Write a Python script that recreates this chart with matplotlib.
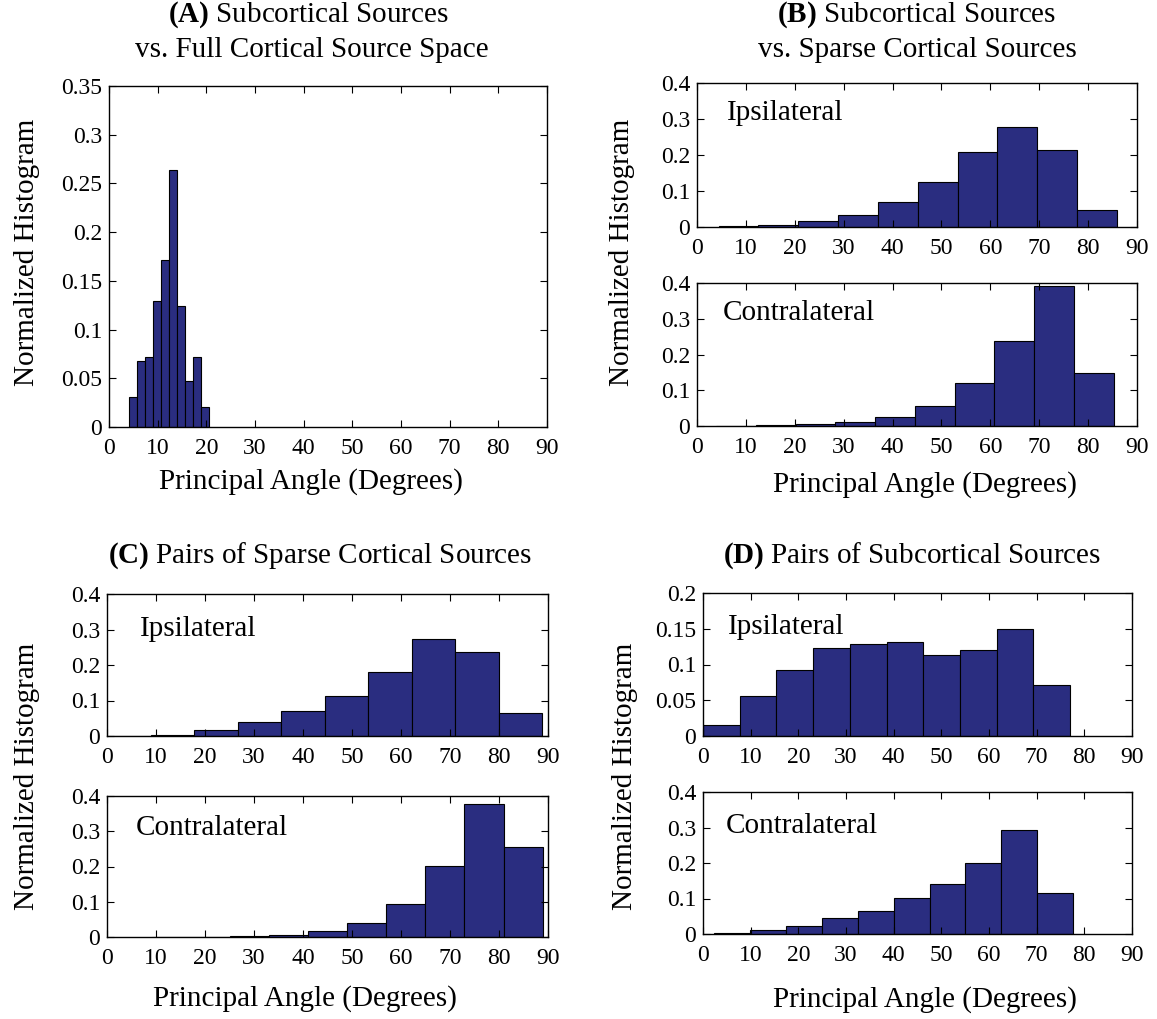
import numpy as np
import matplotlib
matplotlib.use('Agg')
import matplotlib.pyplot as plt

plt.rcParams['font.family'] = ['Liberation Serif', 'DejaVu Serif']
plt.rcParams['mathtext.fontset'] = 'custom'
plt.rcParams['mathtext.rm'] = 'Liberation Serif'
plt.rcParams['mathtext.bf'] = 'Liberation Serif:bold'

# histogram data: (first bin edge, last bin edge, normalized heights)
a_range = (4.1, 20.5)
a_vals = [0.031, 0.068, 0.072, 0.129, 0.171, 0.264, 0.124, 0.047, 0.072, 0.021]

b_ipsi_range = (4.4, 85.9)
b_ipsi_vals = [0.002, 0.0065, 0.018, 0.034, 0.070, 0.125, 0.207, 0.277, 0.213, 0.046]
b_contra_range = (3.9, 85.2)
b_contra_vals = [0.0, 0.003, 0.0065, 0.012, 0.026, 0.055, 0.119, 0.238, 0.393, 0.149]

c_ipsi_range = (0.0, 88.8)
c_ipsi_vals = [0.001, 0.004, 0.016, 0.0385, 0.0695, 0.112, 0.180, 0.273, 0.237, 0.066]
c_contra_range = (9.1, 88.9)
c_contra_vals = [0.0, 0.0005, 0.003, 0.0066, 0.018, 0.041, 0.093, 0.201, 0.377, 0.255]

d_ipsi_range = (0.0, 77.0)
d_ipsi_vals = [0.016, 0.056, 0.092, 0.123, 0.128, 0.132, 0.113, 0.120, 0.149, 0.071]
d_contra_range = (2.4, 77.6)
d_contra_vals = [0.002, 0.011, 0.023, 0.046, 0.0645, 0.102, 0.142, 0.199, 0.292, 0.115]

bar_color = '#2a2d80'
xlab = 'Principal Angle (Degrees)'
ylab = 'Normalized Histogram'
W, H = 1157, 1019
fig = plt.figure(figsize=(W / 100, H / 100), dpi=100)


def box(l, t, r, b):
    return [l / W, 1 - b / H, (r - l) / W, (b - t) / H]


def fmt(v):
    return ('%.2f' % v).rstrip('0').rstrip('.')


def ftext(x, y, s, **kw):
    # place text by pixel position (from top-left)
    kw.setdefault('fontsize', 21)
    fig.text(x / W, 1 - y / H, s, ha='center', va='center', **kw)


def hist_axes(pos, rng, vals, ymax, ystep, label=None, labelpos=(0.07, 0.78)):
    ax = fig.add_axes(box(*pos))
    edges = np.linspace(rng[0], rng[1], len(vals) + 1)
    ax.bar(edges[:-1], vals, width=np.diff(edges), align='edge',
           color=bar_color, edgecolor='black', linewidth=0.8)
    ax.set_xlim(0, 90)
    ax.set_ylim(0, ymax)
    ax.set_xticks(range(0, 91, 10))
    yt = np.arange(0, ymax + 1e-9, ystep)
    ax.set_yticks(yt)
    ax.set_yticklabels([fmt(v) for v in yt])
    ax.tick_params(direction='in', top=True, right=True, length=5,
                   labelsize=17)
    ax.tick_params(axis='y', pad=5)
    ax.tick_params(axis='x', pad=8)
    for s in ax.spines.values():
        s.set_linewidth(1.0)
    if label:
        ax.text(labelpos[0], labelpos[1], label, transform=ax.transAxes,
                fontsize=21, va='center', ha='left')
    return ax


# (A)
hist_axes((109, 86, 547, 427), a_range, a_vals, 0.35, 0.05)
ftext(27, 252, ylab, rotation=90)
ftext(311, 482, xlab)
ftext(308, 15, r'$\mathbf{(A)}$ Subcortical Sources')
ftext(312, 50, 'vs. Full Cortical Source Space')

# (B)
hist_axes((697, 83, 1137, 227), b_ipsi_range, b_ipsi_vals, 0.4, 0.1,
          'Ipsilateral', (0.068, 0.79))
hist_axes((697, 283, 1137, 426), b_contra_range, b_contra_vals, 0.4, 0.1,
          'Contralateral', (0.059, 0.79))
ftext(622, 252, ylab, rotation=90)
ftext(925, 485, xlab)
ftext(917, 15, r'$\mathbf{(B)}$ Subcortical Sources')
ftext(917, 50, 'vs. Sparse Cortical Sources')

# (C)
hist_axes((107, 594, 548, 736), c_ipsi_range, c_ipsi_vals, 0.4, 0.1,
          'Ipsilateral', (0.075, 0.75))
hist_axes((107, 796, 548, 937), c_contra_range, c_contra_vals, 0.4, 0.1,
          'Contralateral', (0.066, 0.77))
ftext(27, 776, ylab, rotation=90)
ftext(305, 999, xlab)
ftext(320, 556, r'$\mathbf{(C)}$ Pairs of Sparse Cortical Sources')

# (D)
hist_axes((703, 593, 1132, 736), d_ipsi_range, d_ipsi_vals, 0.2, 0.05,
          'Ipsilateral', (0.058, 0.76))
hist_axes((703, 792, 1132, 934), d_contra_range, d_contra_vals, 0.4, 0.1,
          'Contralateral', (0.053, 0.76))
ftext(625, 776, ylab, rotation=90)
ftext(925, 1000, xlab)
ftext(912, 556, r'$\mathbf{(D)}$ Pairs of Subcortical Sources')

fig.savefig('out.png', dpi=100)
